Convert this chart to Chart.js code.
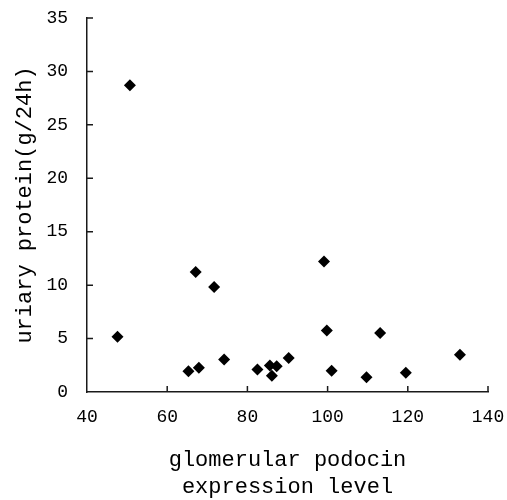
<!DOCTYPE html>
<html>
<head>
<meta charset="utf-8">
<script src="https://cdn.jsdelivr.net/npm/chart.js@4/dist/chart.umd.min.js"></script>
<style>
html,body{margin:0;padding:0;background:#fff;}
#wrap{width:507px;height:500px;position:relative;}
</style>
</head>
<body>
<div id="wrap"><canvas id="c" width="507" height="500"></canvas></div>
<script>
const xValues = [47.6, 50.7, 65.3, 67.9, 67.1, 71.7, 74.2, 82.5, 85.6, 87.3, 86.1, 90.3, 99.1, 99.8, 101.0, 109.7, 113.1, 119.5, 133.0];
const yValues = [5.16, 28.7, 1.94, 2.26, 11.23, 9.83, 3.04, 2.1, 2.48, 2.41, 1.51, 3.18, 12.22, 5.75, 2.0, 1.38, 5.53, 1.79, 3.48];
const xTicks = [40, 60, 80, 100, 120, 140];
const yTicks = [0, 5, 10, 15, 20, 25, 30, 35];
const xTitle = ['glomerular podocin', 'expression level'];
const yTitle = 'uriary protein(g/24h)';

const points = xValues.map((x, i) => ({x: x, y: yValues[i]}));
const FONT = "'Liberation Mono', 'DejaVu Sans Mono', monospace";
const AXIS = '#1a1a1a';

const innerTicks = {
  id: 'innerTicks',
  afterDraw(chart) {
    const ctx = chart.ctx;
    const xs = chart.scales.x, ys = chart.scales.y;
    ctx.save();
    ctx.strokeStyle = AXIS;
    ctx.lineWidth = 1.5;
    ctx.beginPath();
    xTicks.forEach(v => {
      if (v === xTicks[0]) return;
      const px = xs.getPixelForValue(v);
      ctx.moveTo(px, ys.bottom);
      ctx.lineTo(px, ys.bottom - 6);
    });
    yTicks.forEach(v => {
      if (v === yTicks[0]) return;
      const py = ys.getPixelForValue(v);
      ctx.moveTo(xs.left, py);
      ctx.lineTo(xs.left + 6, py);
    });
    ctx.stroke();
    ctx.restore();
  }
};

new Chart(document.getElementById('c'), {
  type: 'scatter',
  data: {
    datasets: [{
      data: points,
      pointStyle: 'rectRot',
      pointRadius: 6,
      pointHoverRadius: 6,
      backgroundColor: '#000',
      borderColor: '#000',
      borderWidth: 0
    }]
  },
  options: {
    responsive: false,
    animation: false,
    events: [],
    layout: {padding: {top: 18, right: 19, left: 0, bottom: 0}},
    plugins: {legend: {display: false}, tooltip: {enabled: false}},
    scales: {
      x: {
        type: 'linear',
        min: 40, max: 140,
        afterBuildTicks: s => { s.ticks = xTicks.map(v => ({value: v})); },
        afterFit: s => { s.height = 108; s.paddingLeft = 0; s.paddingRight = 0; },
        grid: {display: true, drawOnChartArea: false, drawTicks: false},
        border: {display: true, color: AXIS, width: 1.5},
        ticks: {color: '#000', padding: 14, font: {family: FONT, size: 18}, maxRotation: 0},
        title: {display: true, text: xTitle, color: '#000', font: {family: FONT, size: 22, lineHeight: 1.23}, padding: {top: 0, bottom: -1}}
      },
      y: {
        type: 'linear',
        min: 0, max: 35,
        afterBuildTicks: s => { s.ticks = yTicks.map(v => ({value: v})); },
        afterFit: s => { s.width = 87; s.paddingTop = 0; s.paddingBottom = 0; },
        grid: {display: true, drawOnChartArea: false, drawTicks: false},
        border: {display: true, color: AXIS, width: 1.5},
        ticks: {color: '#000', padding: 19, font: {family: FONT, size: 18}},
        title: {display: true, text: yTitle, color: '#000', font: {family: FONT, size: 22}, padding: {top: 12, bottom: 0}}
      }
    }
  },
  plugins: [innerTicks]
});
</script>
</body>
</html>
